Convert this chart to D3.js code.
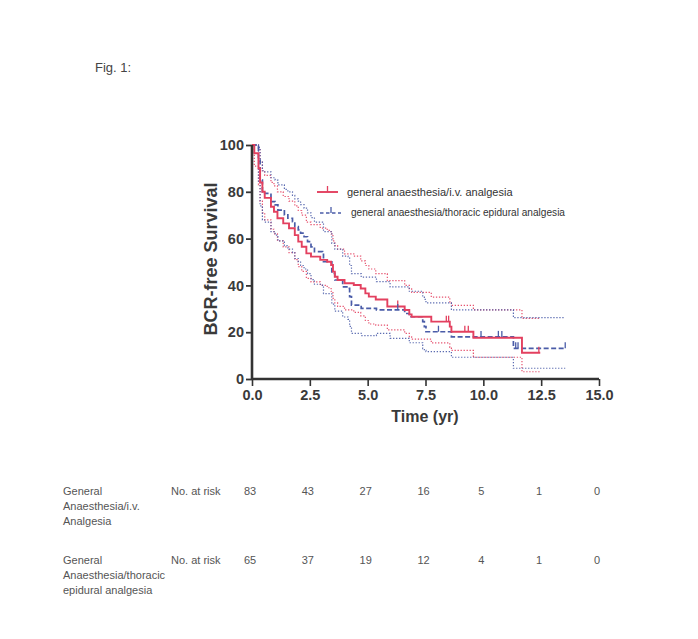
<!DOCTYPE html>
<html><head><meta charset="utf-8">
<script src="https://cdn.jsdelivr.net/npm/d3@7"></script>
<style>body{margin:0;background:#fff;} svg{display:block;}</style>
</head><body>
<svg id="c" width="698" height="639"></svg>
<script>
// ---- data ----
const xTicks = [0, 2.5, 5, 7.5, 10, 12.5, 15];
const yTicks = [0, 20, 40, 60, 80, 100];
// KM steps: [time, survival after time]
const ivSteps = [[0,100],[0.1,96.5],[0.28,90],[0.35,84],[0.45,80],[0.55,77.4],[0.82,73.6],[0.95,71.5],[1.1,68.7],[1.35,66.5],[1.6,64.4],[1.85,61.5],[2.0,58.7],[2.15,56.5],[2.35,53.7],[2.55,52.3],[2.95,50.9],[3.25,50.1],[3.42,48.7],[3.5,45.9],[3.58,43.7],[3.7,42.3],[4.0,40.9],[4.4,40.2],[4.7,38.7],[4.9,36.6],[5.05,35.2],[5.35,34],[5.85,31],[6.6,29.5],[6.8,27.6],[6.9,26.6],[7.75,24.5],[8.55,22.4],[8.62,20.2],[9.57,17.6],[11.67,11.2],[12.46,11.2]];
const ivHi = [[0,100],[0.28,98],[0.35,93],[0.45,89],[0.55,87],[0.82,84],[0.95,82.5],[1.1,80],[1.35,78],[1.6,76],[1.85,74],[2.0,72],[2.15,70],[2.35,67],[2.55,66],[2.95,64.5],[3.25,63.5],[3.42,62],[3.5,59],[3.58,57],[3.7,55.5],[4.0,53.5],[4.4,52.5],[4.7,50.5],[4.9,48.5],[5.05,47],[5.35,45],[5.85,42],[6.6,40],[6.8,38.5],[6.9,37],[7.75,35],[8.55,33],[8.62,31.5],[9.57,29.5],[11.67,25.9],[12.46,25.9]];
const ivLo = [[0,100],[0.1,91],[0.28,83],[0.35,76],[0.45,71],[0.55,68],[0.82,64],[0.95,62],[1.1,59],[1.35,56.5],[1.6,54],[1.85,51],[2.0,48],[2.15,46],[2.35,43],[2.55,41.5],[2.95,40],[3.25,39],[3.42,37.5],[3.5,34.5],[3.58,32.5],[3.7,31],[4.0,29.5],[4.4,28.5],[4.7,27],[4.9,25],[5.05,23.5],[5.35,23],[5.85,21],[6.6,19.5],[6.8,18],[6.9,17],[7.75,15.4],[8.55,13.5],[8.62,12.2],[9.57,9.3],[11.67,3.1],[12.46,3.1]];
const epSteps = [[0,100],[0.28,93.6],[0.35,85],[0.45,80],[0.55,79.3],[0.82,75.8],[1.0,74.4],[1.12,72.2],[1.4,70.1],[1.55,68.7],[1.75,67.2],[1.85,65.1],[2.0,63.7],[2.1,62.3],[2.25,60.8],[2.4,58.7],[2.55,56.5],[2.7,54.4],[3.05,53.7],[3.09,50.1],[3.45,45.1],[3.58,42.3],[3.92,39.4],[4.15,38.7],[4.22,35.2],[4.3,31.6],[4.72,30.2],[5.38,29.5],[6.6,28],[6.8,26.6],[7.38,24.5],[7.45,22.4],[7.52,20.2],[8.62,18],[11.3,13.1],[13.54,13.1]];
const epHi = [[0,100],[0.28,99],[0.35,93],[0.45,89],[0.55,88.5],[0.82,86],[1.0,85],[1.12,83],[1.4,81],[1.55,80],[1.75,78.5],[1.85,77],[2.0,76],[2.1,74.5],[2.25,73],[2.4,71],[2.55,69],[2.7,67],[3.05,66.5],[3.09,63],[3.45,58],[3.58,55.5],[3.92,52.5],[4.15,52],[4.22,48.5],[4.3,45],[4.72,43.5],[5.38,41.6],[5.97,39.4],[6.8,37.5],[7.38,35],[7.45,34],[7.52,32.5],[8.62,29.5],[11.3,26.2],[13.54,26.2]];
const epLo = [[0,100],[0.28,84],[0.35,74],[0.45,68],[0.55,67],[0.82,63],[1.0,61.5],[1.12,59],[1.4,57],[1.55,55.5],[1.75,54],[1.85,51.5],[2.0,50],[2.1,48.5],[2.25,47],[2.4,45],[2.55,42.5],[2.7,40.5],[3.05,40],[3.09,36.5],[3.45,32],[3.58,29],[3.92,26.5],[4.15,25.5],[4.22,22.5],[4.3,19.5],[4.72,18.5],[5.38,19.5],[5.97,17.4],[6.8,15.5],[7.38,13],[7.45,12.2],[7.52,11.7],[8.62,9.3],[11.3,4.6],[13.54,4.6]];
const ivCensor = [6.3, 8.4, 8.5, 9.2, 9.35, 12.4];
const epCensor = [6.3, 8.06, 9.9, 10.65, 10.8, 11.4, 11.5, 13.54];
const riskIv = [83, 43, 27, 16, 5, 1, 0];
const riskEp = [65, 37, 19, 12, 4, 1, 0];
const riskTimes = [0, 2.5, 5, 7.5, 10, 12.5, 15];
const ivLabel = ["General", "Anaesthesia/i.v.", "Analgesia"];
const epLabel = ["General", "Anaesthesia/thoracic", "epidural analgesia"];
const legendIv = "general anaesthesia/i.v. analgesia";
const legendEp = "general anaesthesia/thoracic epidural analgesia";

// ---- drawing ----
const RED = "#e3405f", BLUE = "#4a5ca8", AX = "#333";
const svg = d3.select("#c");
const x = d3.scaleLinear().domain([0, 15]).range([252, 599]);
const y = d3.scaleLinear().domain([0, 100]).range([379, 145]);
const font = "Liberation Sans, Arial, sans-serif";

svg.append("text").attr("x", 95).attr("y", 72).attr("font-family", font)
  .attr("font-size", 13).attr("fill", "#444").text("Fig. 1:");

const line = d3.line().x(d => x(d[0])).y(d => y(d[1])).curve(d3.curveStepAfter);
function stepVal(steps, t) { let v = steps[0][1]; for (const s of steps) if (s[0] <= t) v = s[1]; return v; }

const g = svg.append("g");
// bands
[[ivHi, RED], [ivLo, RED], [epHi, BLUE], [epLo, BLUE]].forEach(([d, c]) => {
  g.append("path").attr("d", line(d)).attr("fill", "none").attr("stroke", c)
    .attr("stroke-width", 1.2).attr("stroke-dasharray", "1.3,1.7").attr("opacity", 0.9);
});
g.append("path").attr("d", line(epSteps)).attr("fill", "none").attr("stroke", BLUE)
  .attr("stroke-width", 1.7).attr("stroke-dasharray", "5,2.5");
g.append("path").attr("d", line(ivSteps)).attr("fill", "none").attr("stroke", RED)
  .attr("stroke-width", 1.9);
ivCensor.forEach(t => g.append("line").attr("x1", x(t)).attr("x2", x(t))
  .attr("y1", y(stepVal(ivSteps, t))).attr("y2", y(stepVal(ivSteps, t)) - 6)
  .attr("stroke", RED).attr("stroke-width", 1.3));
epCensor.forEach(t => g.append("line").attr("x1", x(t)).attr("x2", x(t))
  .attr("y1", y(stepVal(epSteps, t))).attr("y2", y(stepVal(epSteps, t)) - 6)
  .attr("stroke", BLUE).attr("stroke-width", 1.3));

// axes
const xAxisMinor = d3.axisBottom(x).tickValues(d3.range(0, 15.01, 0.5)).tickSize(5).tickFormat("");
const xa = svg.append("g").attr("transform", "translate(0,379)");
xa.call(xAxisMinor);
xa.call(d3.axisBottom(x).tickValues(xTicks).tickSize(7).tickFormat(d3.format(".1f")).tickPadding(4));
xa.selectAll("path.domain").attr("stroke", AX).attr("stroke-width", 2.6);
xa.selectAll(".tick line").attr("stroke", AX).attr("stroke-width", 1.6);
xa.selectAll("text").attr("font-family", font).attr("font-weight", "bold")
  .attr("font-size", 14.5).attr("fill", "#3a3a3a");
xa.selectAll("path.domain").attr("d", `M${x(0)},0H${x(15)}`);

const ya = svg.append("g").attr("transform", "translate(252,0)");
ya.call(d3.axisLeft(y).tickValues(yTicks).tickSize(6).tickPadding(2));
ya.selectAll("path.domain").attr("stroke", AX).attr("stroke-width", 2.6).attr("d", `M0,${y(0)}V${y(100)}`);
ya.selectAll(".tick line").attr("stroke", AX).attr("stroke-width", 1.8);
ya.selectAll("text").attr("font-family", font).attr("font-weight", "bold")
  .attr("font-size", 14.5).attr("fill", "#3a3a3a");

svg.append("text").attr("transform", "translate(217,259) rotate(-90)")
  .attr("text-anchor", "middle").attr("font-family", font).attr("font-weight", "bold")
  .attr("font-size", 18).attr("fill", "#3a3a3a").text("BCR-free Survival");
svg.append("text").attr("x", 425).attr("y", 422).attr("text-anchor", "middle")
  .attr("font-family", font).attr("font-weight", "bold").attr("font-size", 16)
  .attr("fill", "#3a3a3a").text("Time (yr)");

// legend
const lg = svg.append("g");
lg.append("line").attr("x1", 317).attr("x2", 338).attr("y1", 192).attr("y2", 192)
  .attr("stroke", RED).attr("stroke-width", 1.9);
lg.append("line").attr("x1", 327.5).attr("x2", 327.5).attr("y1", 192).attr("y2", 186)
  .attr("stroke", RED).attr("stroke-width", 1.3);
lg.append("text").attr("x", 347).attr("y", 196).attr("font-family", font)
  .attr("font-size", 11).attr("fill", "#333").text(legendIv);
lg.append("line").attr("x1", 320).attr("x2", 341).attr("y1", 213).attr("y2", 213)
  .attr("stroke", BLUE).attr("stroke-width", 1.6).attr("stroke-dasharray", "3.5,2.5");
lg.append("line").attr("x1", 331).attr("x2", 331).attr("y1", 213).attr("y2", 207)
  .attr("stroke", BLUE).attr("stroke-width", 1.3);
lg.append("text").attr("x", 351).attr("y", 216).attr("font-family", font)
  .attr("font-size", 11).attr("fill", "#333")
  .attr("textLength", 214).attr("lengthAdjust", "spacingAndGlyphs").text(legendEp);

// risk table
function riskRow(labels, nums, y0) {
  const t = svg.append("g").attr("font-family", font).attr("font-size", 11).attr("fill", "#555");
  labels.forEach((s, i) => t.append("text").attr("x", 63).attr("y", y0 + i * 15).text(s));
  t.append("text").attr("x", 171).attr("y", y0).text("No. at risk");
  nums.forEach((n, i) => t.append("text").attr("x", x(riskTimes[i]) - 2).attr("y", y0)
    .attr("text-anchor", "middle").text(n));
}
riskRow(ivLabel, riskIv, 495);
riskRow(epLabel, riskEp, 564);
</script>
</body></html>
